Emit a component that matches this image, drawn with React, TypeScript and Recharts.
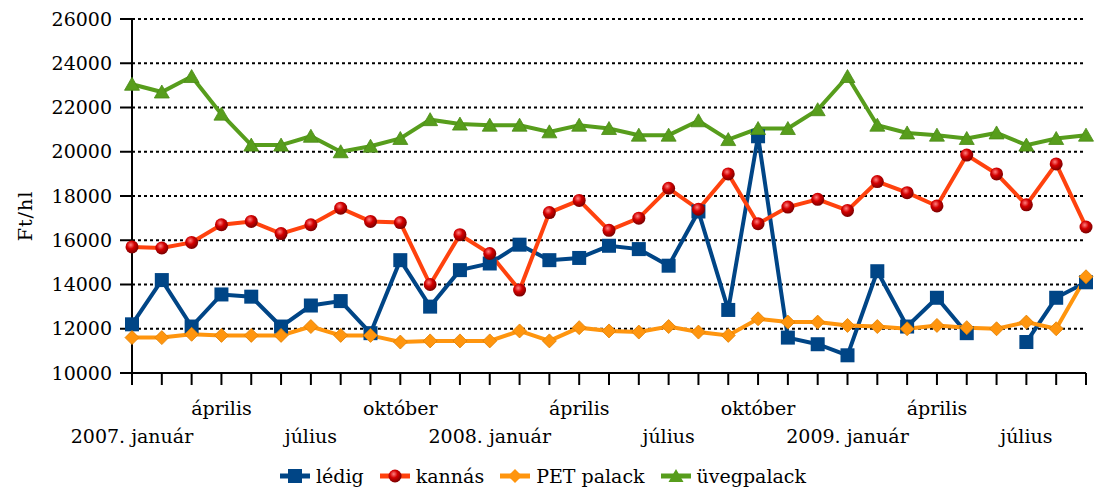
import { LineChart, Line, CartesianGrid, XAxis, YAxis, Legend } from "recharts";

const months = [
  "2007. január", "február", "március", "április", "május", "június",
  "július", "augusztus", "szeptember", "október", "november", "december",
  "2008. január", "február", "március", "április", "május", "június",
  "július", "augusztus", "szeptember", "október", "november", "december",
  "2009. január", "február", "március", "április", "május", "június",
  "július", "augusztus", "szeptember",
];

const ledig = [
  12200, 14200, 12100, 13550, 13450, 12100, 13050, 13250, 11800, 15100,
  13000, 14650, 14950, 15800, 15100, 15200, 15750, 15600, 14850, 17300,
  12850, 20700, 11600, 11300, 10800, 14600, 12100, 13400, 11800, null,
  11400, 13400, 14100,
];
const kannas = [
  15700, 15650, 15900, 16700, 16850, 16300, 16700, 17450, 16850, 16800,
  14000, 16250, 15400, 13750, 17250, 17800, 16450, 17000, 18350, 17400,
  19000, 16750, 17500, 17850, 17350, 18650, 18150, 17550, 19850, 19000,
  17600, 19450, 16600,
];
const pet = [
  11600, 11600, 11750, 11700, 11700, 11700, 12100, 11700, 11700, 11400,
  11450, 11450, 11450, 11900, 11450, 12050, 11900, 11850, 12100, 11850,
  11700, 12450, 12300, 12300, 12150, 12100, 12000, 12150, 12050, 12000,
  12300, 12000, 14350,
];
const uveg = [
  23050, 22700, 23400, 21700, 20300, 20300, 20700, 20000, 20250, 20600,
  21450, 21250, 21200, 21200, 20900, 21200, 21050, 20750, 20750, 21400,
  20550, 21050, 21050, 21900, 23400, 21200, 20850, 20750, 20600, 20850,
  20300, 20600, 20750,
];

const yTicks = [10000, 12000, 14000, 16000, 18000, 20000, 22000, 24000, 26000];

const data = months.map((m, i) => ({
  month: m,
  ledig: ledig[i],
  kannas: kannas[i],
  pet: pet[i],
  uveg: uveg[i],
}));

const FONT = "'DejaVu Serif', serif";
const BLUE = "#004586";
const RED = "#ff420e";
const ORANGE = "#ff950e";
const GREEN = "#579d1c";

const Square = ({ cx, cy }: any) =>
  cx == null || cy == null ? null : (
    <rect x={cx - 7} y={cy - 7} width={14} height={14} fill={BLUE} />
  );
const Sphere = ({ cx, cy }: any) =>
  cx == null || cy == null ? null : (
    <circle cx={cx} cy={cy} r={6.5} fill="url(#sphere)" />
  );
const Diamond = ({ cx, cy }: any) =>
  cx == null || cy == null ? null : (
    <path
      d={`M${cx},${cy - 7} L${cx + 7},${cy} L${cx},${cy + 7} L${cx - 7},${cy} Z`}
      fill={ORANGE}
      stroke="#e07f00"
      strokeWidth={0.8}
    />
  );
const Triangle = ({ cx, cy }: any) =>
  cx == null || cy == null ? null : (
    <path
      d={`M${cx},${cy - 7} L${cx + 7.5},${cy + 6} L${cx - 7.5},${cy + 6} Z`}
      fill={GREEN}
      stroke="#4a8a15"
      strokeWidth={0.8}
    />
  );

const XTick = ({ x, y, payload, index }: any) => {
  if (index % 3 !== 0) return null;
  const upper = (index / 3) % 2 === 1;
  return (
    <text
      x={x}
      y={y + (upper ? 28 : 56)}
      textAnchor="middle"
      fontFamily={FONT}
      fontSize={19}
      fill="#000"
    >
      {payload.value}
    </text>
  );
};

const legendItems = [
  { name: "lédig", color: BLUE, marker: "square" },
  { name: "kannás", color: RED, marker: "sphere" },
  { name: "PET palack", color: ORANGE, marker: "diamond" },
  { name: "üvegpalack", color: GREEN, marker: "triangle" },
];

const LegendIcon = ({ color, marker }: { color: string; marker: string }) => (
  <svg width={30} height={16} style={{ marginRight: 6 }}>
    <defs>
      <radialGradient id={"lg" + marker} cx="40%" cy="35%" r="65%">
        <stop offset="0%" stopColor="#ff8080" />
        <stop offset="45%" stopColor="#d40000" />
        <stop offset="100%" stopColor="#7a0000" />
      </radialGradient>
    </defs>
    <line x1={0} y1={8} x2={30} y2={8} stroke={color} strokeWidth={5} />
    {marker === "square" && <rect x={8} y={1} width={14} height={14} fill={color} />}
    {marker === "sphere" && <circle cx={15} cy={8} r={6.5} fill={"url(#lg" + marker + ")"} />}
    {marker === "diamond" && <path d="M15,1 L22,8 L15,15 L8,8 Z" fill={color} />}
    {marker === "triangle" && <path d="M15,1 L22.5,14 L7.5,14 Z" fill={color} />}
  </svg>
);

const renderLegend = () => (
  <div
    style={{
      height: 30,
      display: "flex",
      justifyContent: "center",
      alignItems: "center",
      fontFamily: FONT,
      fontSize: 19,
      color: "#000",
    }}
  >
    {legendItems.map((it) => (
      <div key={it.name} style={{ display: "flex", alignItems: "center", margin: "0 8px" }}>
        <LegendIcon color={it.color} marker={it.marker} />
        <span>{it.name}</span>
      </div>
    ))}
  </div>
);

export default function App() {
  return (
    <div style={{ position: "absolute", left: 0, top: 0 }}>
      <LineChart
        width={1097}
        height={491}
        data={data}
        margin={{ top: 19, right: 11, bottom: 0, left: 0 }}
      >
        <defs>
          <radialGradient id="sphere" cx="40%" cy="35%" r="65%">
            <stop offset="0%" stopColor="#ff8080" />
            <stop offset="45%" stopColor="#d40000" />
            <stop offset="100%" stopColor="#7a0000" />
          </radialGradient>
        </defs>
        <CartesianGrid
          vertical={false}
          stroke="#000"
          strokeWidth={2}
          strokeDasharray="3 3"
        />
        <XAxis
          dataKey="month"
          interval={0}
          height={88}
          tickSize={12}
          tick={<XTick />}
          axisLine={{ stroke: "#000", strokeWidth: 2 }}
          tickLine={{ stroke: "#000", strokeWidth: 2 }}
        />
        <YAxis
          width={132}
          domain={[10000, 26000]}
          ticks={yTicks}
          interval={0}
          tickSize={12}
          tickMargin={8}
          axisLine={{ stroke: "#000", strokeWidth: 2 }}
          tickLine={{ stroke: "#000", strokeWidth: 2 }}
          tick={{ fontFamily: FONT, fontSize: 19, fill: "#000" }}
          label={(props: any) => (
            <text
              x={25}
              y={216}
              transform="rotate(-90 25 216)"
              textAnchor="middle"
              dominantBaseline="central"
              fontFamily={FONT}
              fontSize={19}
              fill="#000"
              letterSpacing={1}
            >
              Ft/hl
            </text>
          )}
        />
        <Legend verticalAlign="bottom" content={renderLegend} />
        <Line
          dataKey="ledig"
          name="lédig"
          stroke={BLUE}
          strokeWidth={4}
          dot={<Square />}
          activeDot={false}
          isAnimationActive={false}
        />
        <Line
          dataKey="kannas"
          name="kannás"
          stroke={RED}
          strokeWidth={4}
          dot={<Sphere />}
          activeDot={false}
          isAnimationActive={false}
        />
        <Line
          dataKey="pet"
          name="PET palack"
          stroke={ORANGE}
          strokeWidth={4}
          dot={<Diamond />}
          activeDot={false}
          isAnimationActive={false}
        />
        <Line
          dataKey="uveg"
          name="üvegpalack"
          stroke={GREEN}
          strokeWidth={4}
          dot={<Triangle />}
          activeDot={false}
          isAnimationActive={false}
        />
      </LineChart>
    </div>
  );
}
